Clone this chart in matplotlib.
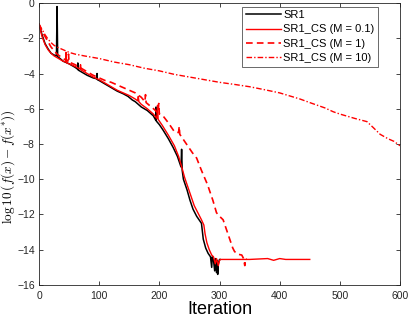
import matplotlib
matplotlib.use("Agg")
import matplotlib.pyplot as plt

plt.rcParams['font.family'] = ['Liberation Sans', 'DejaVu Sans']
plt.rcParams['mathtext.fontset'] = 'cm'

# SR1
sr1_x = [0, 5, 10, 15, 20, 25, 29, 30, 31, 35, 40, 50, 60, 64, 64.5, 65, 70, 80, 90, 96, 96.5, 97,
         100, 110, 120, 130, 140, 148, 155, 160, 165, 170, 180, 190, 194, 194.5, 195, 200, 206, 215,
         223, 230, 236, 237, 238, 240, 246, 251, 256, 262, 270, 273, 277, 281, 285, 287, 288, 290,
         292, 293, 295, 296, 297, 298, 300, 301]
sr1_y = [-1.2, -1.8, -2.3, -2.6, -2.85, -2.95, -3.0, -0.2, -3.05, -3.15, -3.3, -3.45, -3.65, -3.75,
         -3.4, -3.8, -3.9, -4.1, -4.25, -4.3, -4.0, -4.35, -4.4, -4.6, -4.8, -5.0, -5.15, -5.3, -5.5,
         -5.6, -5.75, -5.9, -6.1, -6.4, -6.65, -5.9, -6.7, -6.9, -7.2, -7.7, -8.2, -8.7, -9.3, -8.3,
         -9.5, -10.0, -10.6, -11.2, -11.7, -12.1, -12.5, -13.4, -13.9, -14.2, -14.4, -15.0, -14.4,
         -14.6, -15.2, -14.5, -15.3, -14.6, -15.4, -14.8, -14.55, -14.55]

# SR1_CS (M = 0.1)
m01_x = [0, 5, 10, 15, 20, 25, 30, 35, 40, 44, 45, 46, 50, 60, 68, 69, 70, 80, 90, 100, 110, 120,
         130, 140, 150, 160, 164, 165, 166, 170, 180, 190, 196, 197, 198, 205, 215, 225, 232, 238,
         242, 248, 253, 258, 264, 270, 274, 276, 279, 283, 287, 290, 293, 295, 298, 300, 302, 350,
         380, 390, 400, 410, 450]
m01_y = [-1.2, -1.9, -2.35, -2.65, -2.85, -3.0, -3.1, -3.2, -3.3, -3.35, -2.8, -3.4, -3.45, -3.6,
         -3.75, -3.5, -3.8, -4.0, -4.2, -4.35, -4.55, -4.75, -4.95, -5.1, -5.25, -5.45, -5.55, -5.3,
         -5.6, -5.75, -6.0, -6.3, -6.55, -5.8, -6.6, -6.95, -7.5, -8.1, -8.7, -9.4, -9.9, -10.5,
         -11.0, -11.5, -11.9, -12.3, -12.6, -13.1, -13.6, -14.0, -14.3, -14.4, -14.8, -14.5, -14.9,
         -14.6, -14.55, -14.55, -14.5, -14.6, -14.5, -14.55, -14.55]

# SR1_CS (M = 1)
m1_x = [0, 5, 10, 15, 20, 30, 40, 48, 49, 50, 60, 70, 80, 90, 100, 110, 120, 130, 140, 150, 160,
        170, 176, 177, 178, 185, 192, 198, 199, 200, 206, 215, 225, 232, 233, 234, 245, 255, 262,
        270, 280, 289, 295, 300, 306, 312, 317, 322, 325, 330, 337, 340, 342, 343, 345]
m1_y = [-1.2, -1.6, -1.9, -2.2, -2.5, -2.9, -3.15, -3.3, -2.9, -3.35, -3.5, -3.7, -3.9, -4.1,
        -4.25, -4.4, -4.5, -4.65, -4.8, -4.95, -5.1, -5.35, -5.6, -5.2, -5.65, -5.85, -6.05, -6.25,
        -5.7, -6.3, -6.4, -6.8, -7.3, -7.35, -7.0, -7.45, -8.0, -8.5, -8.8, -9.5, -10.3, -11.2,
        -11.9, -12.1, -12.3, -12.9, -13.4, -13.9, -14.1, -14.25, -14.3, -14.5, -14.9, -14.5, -14.55]

# SR1_CS (M = 10)
m10_x = [0, 5, 10, 15, 20, 25, 30, 40, 50, 60, 75, 100, 125, 150, 175, 200, 225, 250, 275, 300,
         325, 350, 375, 400, 434, 450, 475, 489, 500, 525, 545, 555, 567, 580, 590, 600]
m10_y = [-1.2, -1.5, -1.8, -2.05, -2.25, -2.4, -2.5, -2.65, -2.8, -2.9, -3.0, -3.15, -3.35, -3.5,
         -3.7, -3.85, -4.05, -4.2, -4.35, -4.5, -4.62, -4.75, -4.92, -5.1, -5.45, -5.65, -5.95,
         -6.17, -6.3, -6.55, -6.73, -7.05, -7.45, -7.7, -7.85, -8.1]

labels = ['SR1', 'SR1_CS (M = 0.1)', 'SR1_CS (M = 1)', 'SR1_CS (M = 10)']
xticks = [0, 100, 200, 300, 400, 500, 600]
yticks = [-16, -14, -12, -10, -8, -6, -4, -2, 0]

fig = plt.figure(figsize=(4.09, 3.24), dpi=100)
ax = fig.add_axes([0.0954, 0.1204, 0.8826, 0.8703])

ax.plot(sr1_x, sr1_y, color='black', lw=1.1, label=labels[0])
ax.plot(m01_x, m01_y, color='red', lw=1.0, label=labels[1])
ax.plot(m1_x, m1_y, color='red', lw=1.2, ls=(0, (4, 2.5)), label=labels[2])
ax.plot(m10_x, m10_y, color='red', lw=1.0, ls=(0, (4, 1.5, 1, 1.5)), label=labels[3])

ax.set_xlim(0, 600)
ax.set_ylim(-16, 0)
ax.set_xticks(xticks)
ax.set_yticks(yticks)
ax.tick_params(direction='in', top=True, right=True, length=3, width=0.6,
               labelsize=7.5, colors='#262626', pad=4)
ax.tick_params(axis='y', pad=3)
for s in ax.spines.values():
    s.set_color('#262626')
    s.set_linewidth(0.6)

ax.set_xlabel('Iteration', fontsize=13, labelpad=0)
ax.set_ylabel(r'$\log 10\,(f(x)-f(x^{*}))$', fontsize=9.5)
ax.yaxis.set_label_coords(-0.060, 0.42)

leg = ax.legend(loc='upper right', fontsize=8, frameon=True, fancybox=False,
                edgecolor='#262626', handlelength=3.2, handletextpad=0.15,
                borderpad=0.3, labelspacing=0.4, borderaxespad=0.0,
                bbox_to_anchor=(0.938, 0.987))
leg.get_frame().set_linewidth(0.6)

fig.savefig('out.png', dpi=100)
